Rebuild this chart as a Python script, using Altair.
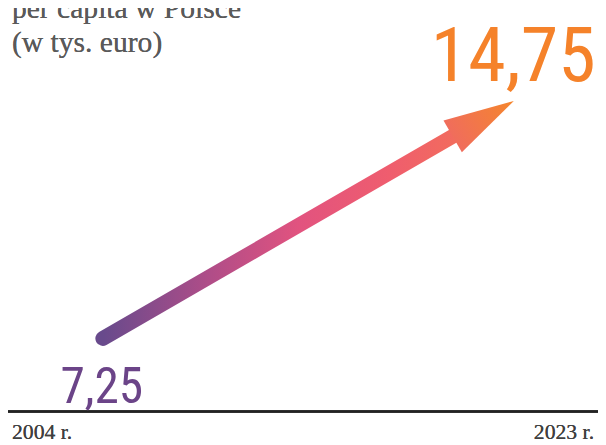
import math
import altair as alt
import pandas as pd

# ---- data ----
years = [2004, 2023]
values = [7.25, 14.75]
title_lines = ["per capita w Polsce", "(w tys. euro)"]
year_suffix = " r."

# ---- layout ----
W, H = 598, 437
x_dom = [1999.62, 2026.89]
y_dom = [3.978, 17.595]
px_per_year = W / (x_dom[1] - x_dom[0])
px_per_unit = H / (y_dom[1] - y_dom[0])

dx_px = (years[1] - years[0]) * px_per_year
dy_px = (values[1] - values[0]) * px_per_unit
rad = math.atan2(dy_px, dx_px)
angle = (360 - math.degrees(rad)) % 360
head_len = 71.6
head_half = 18.6
back = 62.0
end_year = years[1] - back * math.cos(rad) / px_per_year
end_val = values[1] - back * math.sin(rad) / px_per_unit

df = pd.DataFrame({"year": years, "value": values})
df_line = pd.DataFrame({"year": [years[0], end_year], "value": [values[0], end_val]})
df_tip = df.iloc[[1]]

xs = alt.Scale(domain=x_dom, nice=False, zero=False)
ys = alt.Scale(domain=y_dom, nice=False, zero=False)
X = alt.X("year:Q", scale=xs, axis=None)
Y = alt.Y("value:Q", scale=ys, axis=None)

NUM_FONT = "Roboto Condensed"
SERIF = "Liberation Serif"

shaft = alt.Chart(df_line).mark_line(
    strokeWidth=15,
    strokeCap="round",
    color=alt.Gradient(
        gradient="linear",
        stops=[
            alt.GradientStop(color="#684a8c", offset=0),
            alt.GradientStop(color="#b04d88", offset=0.3),
            alt.GradientStop(color="#e2537f", offset=0.55),
            alt.GradientStop(color="#ef5d6e", offset=0.8),
            alt.GradientStop(color="#f26d5c", offset=1),
        ],
        x1=0, x2=1, y1=0, y2=0,
    ),
).encode(x=X, y=Y)

hw = head_half / head_len
head_path = f"M0,0 L-1,{-hw:.4f} L-1,{hw:.4f} Z"
head = alt.Chart(df_tip).mark_point(
    shape=head_path,
    filled=True,
    size=(2 * head_len) ** 2,
    angle=angle,
    strokeWidth=0,
    opacity=1,
    fill=alt.Gradient(
        gradient="linear",
        stops=[
            alt.GradientStop(color="#f06d5c", offset=0),
            alt.GradientStop(color="#f5862c", offset=1),
        ],
        x1=0, x2=1, y1=0, y2=0,
    ),
).encode(x=X, y=Y)

lab_lo = alt.Chart(df.iloc[[0]]).transform_calculate(
    lab="replace(format(datum.value, '.2f'), '.', ',')"
).mark_text(
    font=NUM_FONT, fontSize=50, color="#6b4488", align="center",
    baseline="alphabetic", dy=65, dx=-1,
).encode(x=X, y=Y, text="lab:N")

lab_hi = alt.Chart(df_tip).transform_calculate(
    lab="replace(format(datum.value, '.2f'), '.', ',')"
).mark_text(
    font=NUM_FONT, fontSize=77, color="#f5822a", align="right",
    baseline="alphabetic", dy=-20, dx=83,
).encode(x=X, y=Y, text="lab:N")

base = alt.Chart(df).mark_rule(color="#222222", strokeWidth=2.5).encode(
    x=alt.value(0), x2=alt.value(W), y=alt.value(406)
)

yr_left = alt.Chart(df).mark_text(
    text=f"{years[0]}{year_suffix}", font=SERIF, fontSize=22, color="#404040",
    align="left", baseline="alphabetic",
).encode(x=alt.value(4), y=alt.value(434))

yr_right = alt.Chart(df).mark_text(
    text=f"{years[1]}{year_suffix}", font=SERIF, fontSize=22, color="#404040",
    align="right", baseline="alphabetic",
).encode(x=alt.value(594), y=alt.value(434))

t1 = alt.Chart(df).mark_text(
    text=title_lines[0], font=SERIF, fontSize=30, color="#5a5a5a",
    align="left", baseline="alphabetic",
).encode(x=alt.value(4), y=alt.value(7))

t2 = alt.Chart(df).mark_text(
    text=title_lines[1], font=SERIF, fontSize=30, color="#5a5a5a",
    align="left", baseline="alphabetic",
).encode(x=alt.value(4), y=alt.value(42))

chart = alt.layer(
    base, shaft, head, lab_lo, lab_hi, yr_left, yr_right, t1, t2
).properties(
    width=W, height=H, padding=0,
    autosize=alt.AutoSizeParams(type="none"),
    background="white",
).configure_view(stroke=None)

chart.save("out.html", embed_options={"renderer": "svg", "actions": False})
